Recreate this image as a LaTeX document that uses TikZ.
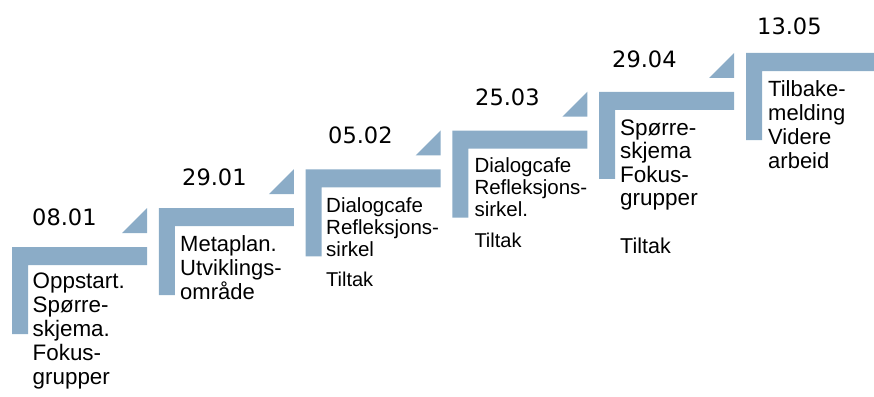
\documentclass[tikz,border=0pt]{standalone}
\usepackage{fontspec}
\setmainfont{Liberation Sans}
\newfontfamily\datofont{DejaVu Sans}
\usepackage{xcolor}
\definecolor{trinnblaa}{RGB}{139,172,199}

\begin{document}
\begin{tikzpicture}[x=1pt,y=-1pt]
    \tikzstyle{datum}=[anchor=base west,inner sep=0pt,font=\datofont\fontsize{22.5}{24}\selectfont]
    \tikzstyle{tekst}=[anchor=north west,inner sep=0pt,align=left]
    \tikzstyle{stor}=[tekst,font=\fontsize{22.4}{24}\selectfont]
    \tikzstyle{liten}=[tekst,font=\fontsize{20.5}{21.8}\selectfont]
    \useasboundingbox (0,0) rectangle (874,396);
    \clip (0,0) rectangle (874,396);
    % trappetrinn
    \foreach \i in {0,...,5} {
      \pgfmathsetmacro{\xa}{12+146.8*\i}
      \pgfmathsetmacro{\ya}{247-38.8*\i}
      \fill[trinnblaa] (\xa,\ya) -- ++(135,0) -- ++(0,18) -- ++(-119,0)
        -- ++(0,69) -- ++(-16,0) -- cycle;
    }
    \foreach \i in {0,...,4} {
      \pgfmathsetmacro{\xa}{12+146.8*\i}
      \pgfmathsetmacro{\ya}{247-38.8*\i}
      \fill[trinnblaa] (\xa+135,\ya-39) -- ++(0,25) -- ++(-25,0) -- cycle;
    }
    % datoer og tekst
    \node[datum] (d1) at (32,225) {08.01};
    \node[stor] (t1) at (32.5,273) {Oppstart.\\Spørre-\\skjema.\\Fokus-\\grupper};
    \node[datum] (d2) at (182,185) {29.01};
    \node[stor,font=\fontsize{22}{24.3}\selectfont] (t2) at (180,235) {Metaplan.\\Utviklings-\\område};
    \node[datum] (d3) at (328,143) {05.02};
    \node[liten] (t3) at (326,197.7) {Dialogcafe\\Refleksjons-\\sirkel};
    \node[liten,font=\fontsize{20}{20}\selectfont] (k3) at (326,272.3) {Tiltak};
    \node[datum] (d4) at (475,105) {25.03};
    \node[liten] (t4) at (474.3,157.7) {Dialogcafe\\Refleksjons-\\sirkel.};
    \node[liten,font=\fontsize{20}{20}\selectfont] (k4) at (474.3,233.3) {Tiltak};
    \node[datum] (d5) at (612,67) {29.04};
    \node[stor,font=\fontsize{22.5}{23.5}\selectfont] (t5) at (620,119.3) {Spørre-\\skjema\\Fokus-\\grupper};
    \node[tekst,font=\fontsize{21.5}{21.5}\selectfont] (k5) at (620,238) {Tiltak};
    \node[datum] (d6) at (757,35) {13.05};
    \node[tekst,font=\fontsize{22}{24.2}\selectfont] (t6) at (768,80) {Tilbake-\\melding\\Videre\\arbeid};
\end{tikzpicture}
\end{document}
